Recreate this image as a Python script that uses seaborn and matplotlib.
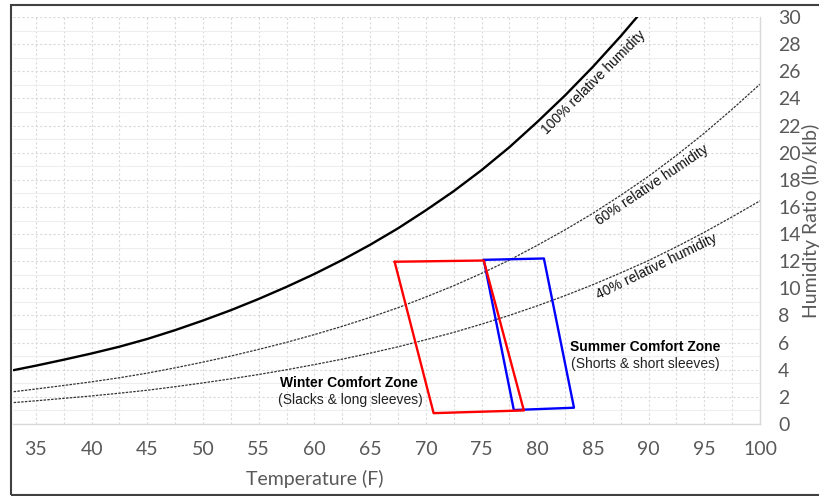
import numpy as np
import pandas as pd
import matplotlib
matplotlib.use("Agg")
import matplotlib.pyplot as plt
from matplotlib.patches import Rectangle
from matplotlib.ticker import MultipleLocator
import seaborn as sns

# ---------- data ----------
temp_f = [33, 35, 37.5, 40, 42.5, 45, 47.5, 50, 52.5, 55, 57.5, 60, 62.5,
          65, 67.5, 70, 72.5, 75, 77.5, 80, 82.5, 85, 87.5, 90, 92.5, 95,
          97.5, 100]
rh100 = [3.97, 4.30, 4.74, 5.20, 5.70, 6.27, 6.92, 7.63, 8.39, 9.22, 10.11,
         11.06, 12.09, 13.21, 14.42, 15.75, 17.16, 18.71, 20.40, 22.26,
         24.22, 26.33, 28.59, 31.0, 33.5, 36.0, 38.8, 41.8]
rh60 = [2.38, 2.58, 2.84, 3.11, 3.41, 3.75, 4.14, 4.56, 5.01, 5.50, 6.02,
        6.59, 7.20, 7.86, 8.57, 9.36, 10.19, 11.10, 12.08, 13.17, 14.31,
        15.53, 16.86, 18.26, 19.80, 21.44, 23.20, 25.05]
rh40 = [1.58, 1.71, 1.89, 2.07, 2.27, 2.49, 2.75, 3.03, 3.33, 3.65, 4.00,
        4.38, 4.78, 5.22, 5.69, 6.21, 6.75, 7.36, 8.01, 8.71, 9.46, 10.27,
        11.14, 12.05, 13.06, 14.13, 15.27, 16.45]

winter_t = [67.2, 75.2, 78.8, 70.7, 67.2]
winter_w = [11.96, 12.05, 1.0, 0.8, 11.96]
summer_t = [75.2, 80.6, 83.3, 77.9, 75.2]
summer_w = [12.1, 12.2, 1.2, 1.03, 12.1]

x_ticks = [35, 40, 45, 50, 55, 60, 65, 70, 75, 80, 85, 90, 95, 100]
y_ticks = list(range(0, 31, 2))

curves = pd.DataFrame({"temp": temp_f, "rh100": rh100, "rh60": rh60,
                       "rh40": rh40})

# ---------- style ----------
sns.set_theme(style="white")
plt.rcParams["font.family"] = ["Liberation Sans", "DejaVu Sans"]
tick_gray = "#595959"
axis_font = "Lato"

fig = plt.figure(figsize=(8.2, 4.96), dpi=100)
ax = fig.add_axes([13 / 820, 72 / 496, 747 / 820, 407 / 496])

# grid
ax.xaxis.set_major_locator(MultipleLocator(5))
ax.xaxis.set_minor_locator(MultipleLocator(2.5))
ax.yaxis.set_major_locator(MultipleLocator(2))
ax.yaxis.set_minor_locator(MultipleLocator(1))
ax.grid(which="both", axis="x", color="#d9d9d9", ls=(0, (2, 2)), lw=0.8)
ax.grid(which="major", axis="y", color="#d9d9d9", ls=(0, (2, 2)), lw=0.8)
ax.grid(which="minor", axis="y", color="#eeeeee", ls="-", lw=0.8)
ax.set_axisbelow(True)

# RH curves
sns.lineplot(data=curves, x="temp", y="rh100", ax=ax, color="black",
             lw=1.7, estimator=None)
sns.lineplot(data=curves, x="temp", y="rh60", ax=ax, color="#333333",
             lw=0.9, ls=(0, (2, 1)), estimator=None)
sns.lineplot(data=curves, x="temp", y="rh40", ax=ax, color="#333333",
             lw=0.9, ls=(0, (2, 1)), estimator=None)

# comfort zones
sns.lineplot(x=summer_t, y=summer_w, ax=ax, color="#0000ff", lw=1.7,
             sort=False, estimator=None)
sns.lineplot(x=winter_t, y=winter_w, ax=ax, color="#ff0000", lw=1.7,
             sort=False, estimator=None)

# curve labels
lab_kw = dict(fontsize=10, color="#111111", ha="center", va="center")
ax.text(85.1, 25.2, "100% relative humidity", rotation=45, **lab_kw)
ax.text(90.3, 17.6, "60% relative humidity", rotation=34, **lab_kw)
ax.text(90.7, 11.6, "40% relative humidity", rotation=26, **lab_kw)

ax.text(63.1, 3.02, "Winter Comfort Zone", fontsize=10, fontweight="bold",
        ha="center", va="center", color="black")
ax.text(63.2, 1.77, "(Slacks & long sleeves)", fontsize=10,
        ha="center", va="center", color="#222222")
ax.text(89.7, 5.67, "Summer Comfort Zone", fontsize=10, fontweight="bold",
        ha="center", va="center", color="black")
ax.text(89.7, 4.42, "(Shorts & short sleeves)", fontsize=10,
        ha="center", va="center", color="#222222")

# axes
ax.set_xlim(32.94, 100)
ax.set_ylim(0, 30)
ax.set_xticks(x_ticks)
ax.set_yticks(y_ticks)
ax.yaxis.tick_right()
ax.tick_params(which="both", length=0)
ax.tick_params(axis="x", pad=12, labelsize=14, labelcolor=tick_gray)
ax.tick_params(axis="y", pad=13, labelsize=14, labelcolor=tick_gray)
for lbl in ax.get_xticklabels() + ax.get_yticklabels():
    lbl.set_fontfamily(axis_font)

for side in ["left", "top"]:
    ax.spines[side].set_visible(False)
for side in ["bottom", "right"]:
    ax.spines[side].set_color("#d9d9d9")
    ax.spines[side].set_linewidth(1.0)

ax.set_xlabel("Temperature (F)", fontsize=14, color=tick_gray,
              fontfamily=axis_font)
ax.xaxis.set_label_coords(0.4036, -0.112)
ax.set_ylabel("Humidity Ratio (lb/klb)", fontsize=14, color=tick_gray,
              fontfamily=axis_font)
ax.yaxis.set_label_position("right")
ax.yaxis.set_label_coords(1.0565, 0.5)

# outer frame
fig.patches.append(Rectangle((11 / 820, 1 / 496), 830 / 820, 490 / 496,
                             transform=fig.transFigure, fill=False,
                             edgecolor="#404040", lw=1.5))

fig.savefig("out.png", dpi=100)
plt.close(fig)
